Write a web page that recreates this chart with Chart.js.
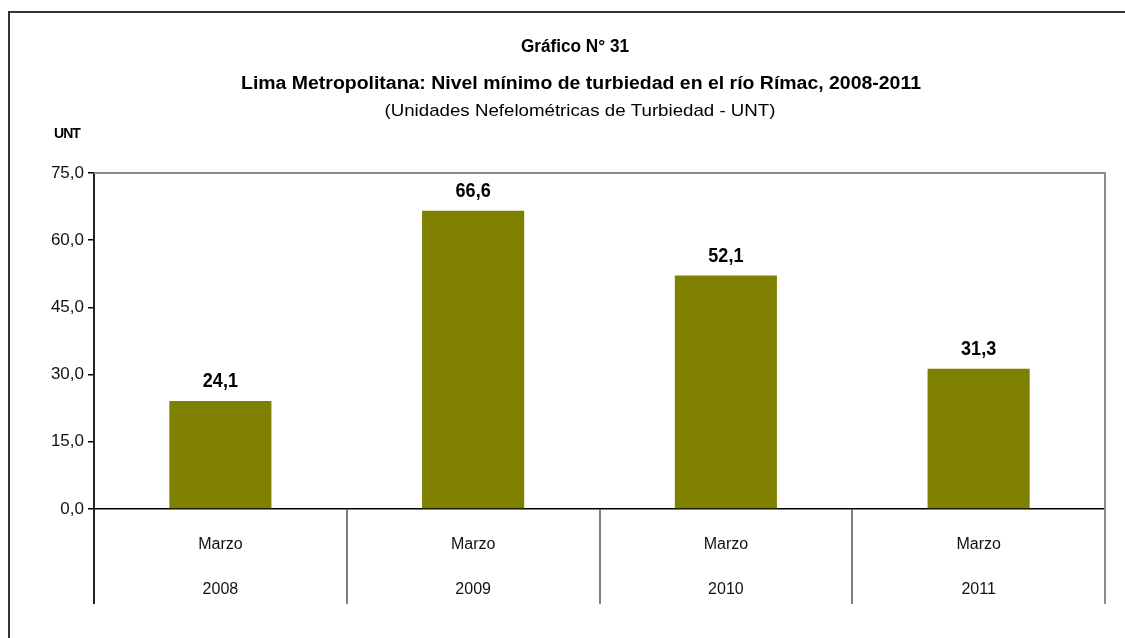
<!DOCTYPE html>
<html>
<head>
<meta charset="utf-8">
<script src="https://cdn.jsdelivr.net/npm/chart.js@4"></script>
<style>
  body { margin: 0; background: #fff; }
  canvas { display: block; }
</style>
</head>
<body>
<canvas id="chart" width="1125" height="638"></canvas>
<script>
// data
const months = ['Marzo', 'Marzo', 'Marzo', 'Marzo'];
const years = ['2008', '2009', '2010', '2011'];
const turbidity = [24.1, 66.6, 52.1, 31.3];
const yTicks = [0, 15, 30, 45, 60, 75];

const titleLines = [
  'Gráfico N° 31',
  'Lima Metropolitana: Nivel mínimo de turbiedad en el río Rímac, 2008-2011'
];
const subtitle = '(Unidades Nefelométricas de Turbiedad - UNT)';
const yUnit = 'UNT';

const FONT = "'Liberation Sans', Arial, sans-serif";
const fmt = v => v.toFixed(1).replace('.', ',');

// draw centred text squeezed horizontally, like the narrow font of the original
function drawNarrow(ctx, text, cx, y, width) {
  const w = ctx.measureText(text).width;
  ctx.save();
  ctx.translate(cx, y);
  ctx.scale(width / w, 1);
  ctx.fillText(text, 0, 0);
  ctx.restore();
}

const decorPlugin = {
  id: 'decor',
  beforeDraw(chart) {
    const ctx = chart.ctx;
    ctx.save();
    ctx.fillStyle = '#fff';
    ctx.fillRect(0, 0, chart.width, chart.height);
    ctx.restore();
  },
  afterDraw(chart) {
    const ctx = chart.ctx;
    const area = chart.chartArea;
    const x = chart.scales.x;
    const bottomEnd = 604;

    ctx.save();

    // outer frame (top + left)
    ctx.strokeStyle = '#333';
    ctx.lineWidth = 2;
    ctx.beginPath();
    ctx.moveTo(9, chart.height);
    ctx.lineTo(9, 12);
    ctx.lineTo(chart.width, 12);
    ctx.stroke();

    // plot frame top + right in gray
    ctx.strokeStyle = '#8c8c8c';
    ctx.lineWidth = 2;
    ctx.beginPath();
    ctx.moveTo(area.left, area.top);
    ctx.lineTo(area.right, area.top);
    ctx.lineTo(area.right, bottomEnd);
    ctx.stroke();

    // category separators below the axis
    const catW = area.width / years.length;
    ctx.strokeStyle = '#555';
    ctx.lineWidth = 1.5;
    ctx.beginPath();
    for (let i = 1; i < years.length; i++) {
      const px = Math.round(x.getPixelForValue(i) - catW / 2);
      ctx.moveTo(px, area.bottom);
      ctx.lineTo(px, bottomEnd);
    }
    ctx.stroke();

    // left axis continues down
    ctx.strokeStyle = '#222';
    ctx.lineWidth = 2;
    ctx.beginPath();
    ctx.moveTo(area.left, area.bottom);
    ctx.lineTo(area.left, bottomEnd);
    ctx.stroke();

    // titles
    ctx.fillStyle = '#000';
    ctx.textAlign = 'center';
    ctx.textBaseline = 'middle';
    ctx.font = 'bold 18px ' + FONT;
    drawNarrow(ctx, titleLines[0], 575, 47, 108);
    drawNarrow(ctx, titleLines[1], 581, 84, 680);
    ctx.font = '17px ' + FONT;
    drawNarrow(ctx, subtitle, 580, 111, 391);

    // unit label
    ctx.font = 'bold 15px ' + FONT;
    ctx.letterSpacing = '-1px';
    drawNarrow(ctx, yUnit, 67, 134, 26);
    ctx.letterSpacing = '0px';

    // value labels above the bars
    ctx.font = 'bold 20px ' + FONT;
    ctx.textBaseline = 'alphabetic';
    chart.getDatasetMeta(0).data.forEach((bar, i) => {
      const t = fmt(turbidity[i]);
      drawNarrow(ctx, t, bar.x, bar.y - 14, ctx.measureText(t).width * 0.9);
    });

    ctx.restore();
  }
};

new Chart(document.getElementById('chart'), {
  type: 'bar',
  data: {
    labels: years.map((y, i) => [months[i], y]),
    datasets: [{
      data: turbidity,
      backgroundColor: '#808000',
      borderWidth: 0,
      categoryPercentage: 1,
      barPercentage: 0.404
    }]
  },
  options: {
    responsive: false,
    animation: false,
    devicePixelRatio: 1,
    layout: { padding: { left: 0, top: 173, right: 20, bottom: 34 } },
    plugins: {
      legend: { display: false },
      tooltip: { enabled: false },
      title: { display: false }
    },
    scales: {
      x: {
        offset: true,
        grid: { display: false, drawTicks: false },
        border: { display: true, color: '#000', width: 1.5 },
        ticks: {
          color: '#111',
          padding: 13,
          maxRotation: 0,
          font: { family: FONT, size: 16, lineHeight: 2.8 }
        },
        afterFit(scale) { scale.height = 95; }
      },
      y: {
        min: 0,
        max: 75,
        afterBuildTicks(scale) { scale.ticks = yTicks.map(v => ({ value: v })); },
        grid: { drawOnChartArea: false, drawTicks: true, tickLength: 6, color: '#000', lineWidth: 1.5 },
        border: { display: true, color: '#222', width: 2 },
        ticks: {
          color: '#111',
          padding: 4,
          font: { family: FONT, size: 17 },
          callback: v => fmt(v)
        },
        afterFit(scale) { scale.width = 94; }
      }
    }
  },
  plugins: [decorPlugin]
});
</script>
</body>
</html>
